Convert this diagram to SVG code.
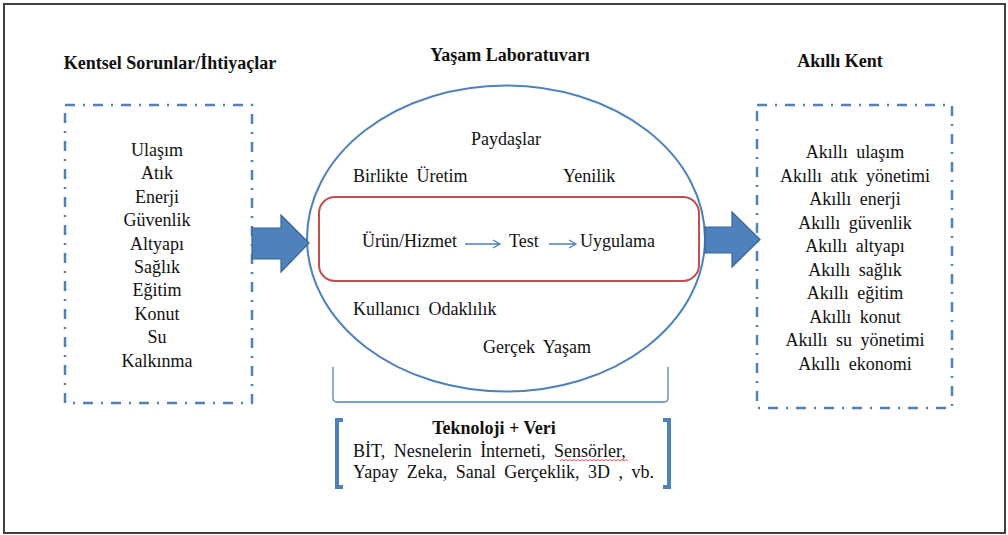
<svg xmlns="http://www.w3.org/2000/svg" width="1008" height="535" viewBox="0 0 1008 535">
<style>
text{font-family:"Liberation Serif","Times New Roman",serif;font-size:18px;fill:#111}
.b{font-weight:bold}
.c{text-anchor:middle}
.w{word-spacing:4px}
.dd{fill:none;stroke:#4f81bd;stroke-width:2.5;stroke-dasharray:10 8 2 8}
.blk{fill:#4f81bd;stroke:#3a6496;stroke-width:1.2}
.thin{fill:none;stroke:#4f81bd;stroke-width:1.3}
</style>
<rect x="4" y="4" width="1001" height="529" fill="#fff" stroke="#404040" stroke-width="2"/>

<g id="kentsel">
<text class="b c" x="170" y="69">Kentsel Sorunlar/İhtiyaçlar</text>
<rect class="dd" x="65" y="105" width="187" height="298"/>
<text class="c" x="157" y="156">Ulaşım</text>
<text class="c" x="157" y="179.4">Atık</text>
<text class="c" x="157" y="202.8">Enerji</text>
<text class="c" x="157" y="226.2">Güvenlik</text>
<text class="c" x="157" y="249.6">Altyapı</text>
<text class="c" x="157" y="273">Sağlık</text>
<text class="c" x="157" y="296.4">Eğitim</text>
<text class="c" x="157" y="319.8">Konut</text>
<text class="c" x="157" y="343.2">Su</text>
<text class="c" x="157" y="366.6">Kalkınma</text>
</g>

<g id="yasam">
<text class="b c" x="510" y="61">Yaşam Laboratuvarı</text>
<ellipse cx="506" cy="238.5" rx="199" ry="153" fill="none" stroke="#4f81bd" stroke-width="2"/>
<text class="c" x="506" y="145">Paydaşlar</text>
<text class="w" x="353" y="182">Birlikte Üretim</text>
<text x="563" y="182">Yenilik</text>
<text class="w" x="353" y="315">Kullanıcı Odaklılık</text>
<text class="w" x="483" y="353">Gerçek Yaşam</text>
</g>

<g id="surec">
<rect x="319" y="197" width="380" height="84" rx="16" fill="none" stroke="#c0504d" stroke-width="2"/>
<text x="362" y="247">Ürün/Hizmet</text>
<text x="509" y="247">Test</text>
<text x="580" y="247">Uygulama</text>
</g>

<g id="teknoloji">
<path class="thin" d="M333 367 V398 Q333 402 337 402 H664 Q668 402 668 398 V367"/>
<path d="M343 420 H337 V487 H343" fill="none" stroke="#4f81bd" stroke-width="4"/>
<path d="M663 420 H669 V487 H663" fill="none" stroke="#4f81bd" stroke-width="4"/>
<text class="b c" x="494" y="434">Teknoloji + Veri</text>
<text class="w" x="353" y="457">BİT, Nesnelerin İnterneti, Sensörler,</text>
<text class="w" x="353" y="478">Yapay Zeka, Sanal Gerçeklik, 3D , vb.</text>
<path d="M560 461 l2 -1.5 l2 1.5 l2 -1.5 l2 1.5 l2 -1.5 l2 1.5 l2 -1.5 l2 1.5 l2 -1.5 l2 1.5 l2 -1.5 l2 1.5 l2 -1.5 l2 1.5 l2 -1.5 l2 1.5 l2 -1.5 l2 1.5 l2 -1.5 l2 1.5 l2 -1.5 l2 1.5 l2 -1.5 l2 1.5 l2 -1.5 l2 1.5 l2 -1.5 l2 1.5 l2 -1.5 l2 1.5 l2 -1.5 l2 1.5 l2 -1.5 l2 1.5" fill="none" stroke="#e03030" stroke-width="0.8"/>
</g>

<g id="akilli">
<text class="b c" x="840" y="67">Akıllı Kent</text>
<rect class="dd" x="757" y="105" width="195" height="303"/>
<text class="c w" x="855" y="158">Akıllı ulaşım</text>
<text class="c w" x="855" y="181.5">Akıllı atık yönetimi</text>
<text class="c w" x="855" y="205">Akıllı enerji</text>
<text class="c w" x="855" y="228.5">Akıllı güvenlik</text>
<text class="c w" x="855" y="252">Akıllı altyapı</text>
<text class="c w" x="855" y="275.5">Akıllı sağlık</text>
<text class="c w" x="855" y="299">Akıllı eğitim</text>
<text class="c w" x="855" y="322.5">Akıllı konut</text>
<text class="c w" x="855" y="346">Akıllı su yönetimi</text>
<text class="c w" x="855" y="369.5">Akıllı ekonomi</text>
</g>

<g id="connectors">
<path class="blk" d="M252 228 H281 V215 L309 243 L281 272 V259 H252 Z"/>
<path class="blk" d="M705 227 H732 V212 L760 239.5 L732 267 V253 H705 Z"/>
<path class="thin" d="M465 244 H500 M493 240 L500 244 L493 248"/>
<path class="thin" d="M549 244 H576 M569 240 L576 244 L569 248"/>
</g>
</svg>
